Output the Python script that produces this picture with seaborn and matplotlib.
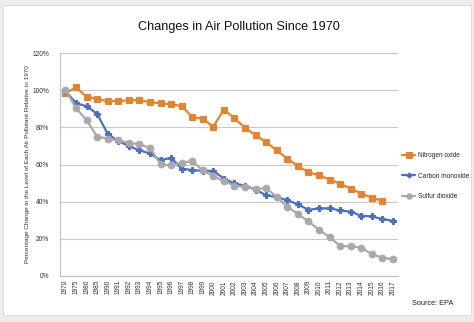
import matplotlib
matplotlib.use("Agg")
import matplotlib.pyplot as plt
from matplotlib.patches import Rectangle
import numpy as np
import pandas as pd
import seaborn as sns

years = ["1970", "1975", "1980", "1985"] + [str(y) for y in range(1990, 2018)]

nitrogen_oxide = [98.5, 101.5, 96.5, 95.3, 94.2, 94.2, 94.6, 94.6, 93.6, 93.0, 92.4, 91.5,
                  85.6, 84.6, 80.4, 89.6, 84.8, 79.8, 75.8, 72.0, 67.6, 63.2, 59.2, 55.8,
                  54.2, 51.9, 49.7, 47.0, 44.4, 42.2, 40.4, None]
carbon_monoxide = [99.6, 93.0, 91.4, 87.3, 76.5, 72.6, 70.0, 67.6, 66.0, 62.4, 63.6, 57.8,
                   57.0, 56.6, 56.6, 52.4, 49.8, 48.6, 46.5, 43.4, 42.5, 40.8, 38.6, 35.6,
                   36.4, 36.4, 35.3, 34.6, 32.4, 32.1, 30.6, 29.7]
sulfur_dioxide = [100.2, 90.3, 84.0, 75.0, 74.0, 73.0, 71.8, 70.8, 69.0, 60.2, 59.5, 61.0,
                  61.8, 56.9, 53.7, 51.0, 48.6, 47.9, 46.8, 47.3, 42.5, 37.4, 33.4, 29.4,
                  24.9, 20.9, 16.2, 15.9, 15.3, 11.7, 9.9, 9.0]

series_names = ["Nitrogen oxide", "Carbon monoxide", "Sulfur dioxide"]
series_values = [nitrogen_oxide, carbon_monoxide, sulfur_dioxide]
colors = ["#E8832A", "#4A6FC8", "#A9A9A9"]
markers = ["s", "P", "o"]
marker_sizes = [4.8, 4.2, 4.8]

sns.set_theme(style="white")
plt.rcParams["font.family"] = ["Liberation Sans", "DejaVu Sans"]

fig = plt.figure(figsize=(4.74, 3.22), dpi=100)
fig.patch.set_facecolor("#ececec")
fig.patches.append(Rectangle((0.006, 0.022), 0.988, 0.962, transform=fig.transFigure,
                             facecolor="white", edgecolor="#d8d8d8", linewidth=0.6, zorder=-5))

ax = fig.add_axes([0.127, 0.143, 0.713, 0.692])
ax.set_facecolor("white")
ax.set_zorder(2)

x_index = np.arange(len(years))
for name, vals, col, mk, ms in zip(series_names, series_values, colors, markers, marker_sizes):
    df = pd.DataFrame({"x": x_index, "value": [np.nan if v is None else v for v in vals]}).dropna()
    sns.lineplot(data=df, x="x", y="value", ax=ax, color=col, linewidth=1.6,
                 marker=mk, markersize=ms, markeredgecolor=col, markerfacecolor=col,
                 label=name, zorder=3)

ax.set_xlim(-0.5, len(years) - 0.5)
ax.set_ylim(0, 120)
ax.set_yticks(range(0, 121, 20))
ax.set_yticklabels([f"{v}%" for v in range(0, 121, 20)], fontsize=4.8, color="#333333")
ax.set_xticks(x_index)
ax.set_xticklabels(years, rotation=90, fontsize=4.7, color="#333333")
ax.set_xticks(np.arange(-0.5, len(years), 1.0), minor=True)
ax.tick_params(axis="x", which="major", length=0, pad=3)
ax.tick_params(axis="x", which="minor", length=2.5, width=0.5, color="#bbbbbb")
ax.tick_params(axis="y", length=0, pad=8)

ax.yaxis.grid(True, color="#c8c8c8", linewidth=0.8)
ax.set_axisbelow(True)
for side in ["top", "right"]:
    ax.spines[side].set_visible(False)
for side in ["left", "bottom"]:
    ax.spines[side].set_color("#c0c0c0")
    ax.spines[side].set_linewidth(0.8)

ax.set_xlabel("")
ax.set_ylabel("Percentage Change in the Level of Each Air Pollutant Relative to 1970",
              fontsize=4.6, color="#333333", labelpad=2)

fig.suptitle("Changes in Air Pollution Since 1970", x=0.505, y=0.935, fontsize=9.1, color="#111111")

leg = ax.legend(loc="center left", bbox_to_anchor=(402 / 474, 1 - 176 / 322),
                bbox_transform=fig.transFigure, frameon=False, fontsize=4.7,
                handlelength=2.0, labelspacing=2.05, handletextpad=0.4,
                borderaxespad=0, borderpad=0, markerscale=0.8)

fig.text(0.87, 0.052, "Source: EPA", fontsize=5.3, color="#222222")

fig.savefig("out.png", dpi=100, facecolor=fig.get_facecolor())
